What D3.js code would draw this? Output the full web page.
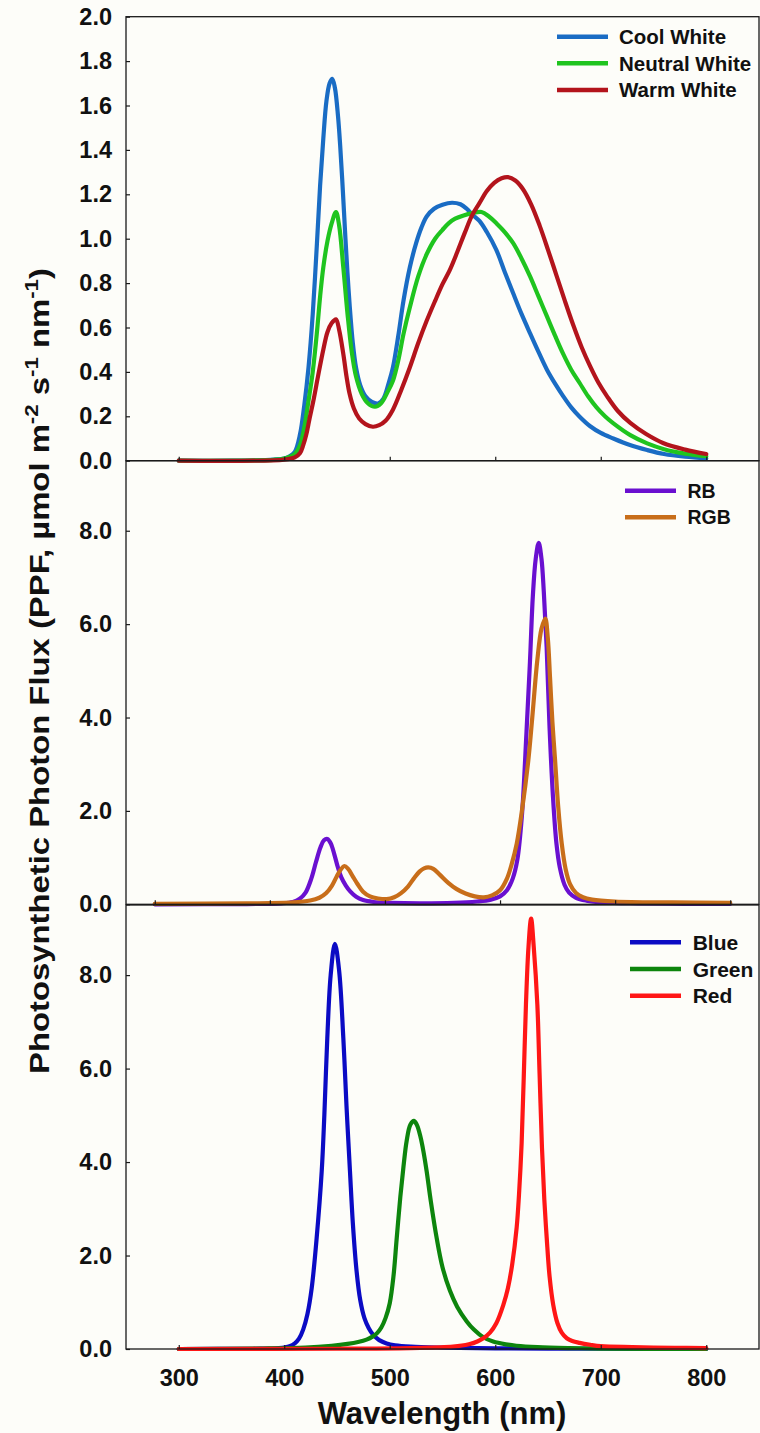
<!DOCTYPE html>
<html><head><meta charset="utf-8">
<script src="https://cdn.jsdelivr.net/npm/d3@7"></script>
<style>
html,body{margin:0;padding:0;background:#fdfdf9;}
svg{display:block;}
text{font-family:"Liberation Sans",Arial,sans-serif;font-weight:bold;fill:#111;}
</style></head><body>
<svg id="chart" width="760" height="1433"></svg>
<script>
// ---------- tick labels ----------
const X_TICKS = [300, 400, 500, 600, 700, 800];
const TOP_Y_TICKS = [0, 0.2, 0.4, 0.6, 0.8, 1.0, 1.2, 1.4, 1.6, 1.8, 2.0];
const LOWER_Y_TICKS = [0, 2, 4, 6, 8];

// ---------- series: [wavelength nm, PPF] ----------
const coolWhite = [[300,0],[350,0],[390,0.005],[400,0.01],[405,0.02],[410,0.04],[415,0.12],[419,0.25],[423,0.42],[427,0.66],[431,0.98],[434,1.24],[437,1.45],[440,1.62],[443,1.70],[445.5,1.72],[448,1.68],[451,1.55],[453,1.42],[455.5,1.22],[458,1.0],[460,0.84],[462,0.7],[465,0.53],[468,0.42],[472,0.34],[477,0.29],[483,0.265],[489,0.258],[494,0.28],[499,0.35],[503,0.42],[508,0.56],[513,0.72],[519,0.87],[525,0.98],[530,1.05],[535,1.10],[542,1.135],[550,1.153],[559,1.162],[567,1.155],[573,1.135],[578,1.11],[585,1.08],[592,1.03],[601,0.95],[609,0.85],[617,0.754],[625,0.66],[633,0.574],[641,0.49],[649,0.41],[657,0.345],[664.5,0.29],[672,0.24],[680,0.198],[690,0.155],[700,0.125],[712,0.10],[727,0.072],[744,0.048],[760,0.03],[780,0.018],[800,0.011]];
const neutralWhite = [[300,0],[390,0.004],[400,0.01],[410,0.03],[415,0.07],[419,0.15],[423,0.27],[427,0.4],[431,0.58],[434,0.74],[437,0.87],[441,0.99],[445,1.07],[449,1.12],[452,1.06],[456,0.87],[460,0.66],[464,0.49],[468,0.38],[473.5,0.30],[479,0.26],[486,0.243],[492,0.26],[498,0.31],[503,0.36],[508,0.45],[513,0.57],[519,0.69],[527,0.83],[535,0.93],[543,1.0],[550,1.04],[556,1.07],[562,1.09],[570,1.105],[578,1.115],[587,1.12],[594,1.10],[601,1.07],[609,1.03],[617,0.98],[625,0.91],[633,0.83],[641,0.74],[649,0.65],[657,0.56],[664.5,0.48],[672,0.41],[680,0.35],[688,0.29],[696,0.24],[704,0.20],[712,0.168],[728,0.115],[744,0.078],[760,0.052],[780,0.032],[800,0.02]];
const warmWhite = [[300,0],[400,0.005],[410,0.015],[415,0.035],[418,0.07],[421,0.12],[424,0.19],[427.6,0.27],[432,0.38],[437,0.50],[441,0.58],[445,0.62],[449,0.637],[452,0.59],[456,0.48],[459,0.38],[462,0.30],[466,0.235],[471,0.19],[477,0.165],[484,0.153],[490,0.16],[496,0.18],[503,0.23],[511,0.32],[519,0.42],[527,0.53],[535,0.63],[543,0.72],[550,0.795],[557,0.86],[564,0.94],[571,1.025],[578,1.105],[585,1.16],[592,1.215],[599,1.252],[606,1.272],[612,1.277],[619,1.262],[626,1.225],[634,1.155],[642,1.06],[650,0.95],[658,0.835],[666,0.72],[674,0.61],[682,0.51],[690,0.425],[698,0.35],[706,0.29],[716,0.225],[728,0.17],[743,0.12],[759,0.08],[780,0.05],[800,0.03]];

const rb = [[300,0],[380,0.005],[410,0.02],[420,0.05],[426,0.12],[431,0.25],[436,0.55],[440,0.9],[444,1.22],[447,1.37],[450,1.40],[453,1.3],[456,1.07],[459,0.8],[462,0.58],[466,0.4],[470,0.27],[475,0.16],[481,0.09],[490,0.05],[505,0.03],[530,0.02],[560,0.03],[580,0.06],[592,0.1],[600,0.17],[606,0.3],[611,0.55],[615,0.95],[619,1.9],[623,3.7],[626,5.2],[628.5,6.6],[631,7.4],[633.6,7.74],[636,7.4],[638,6.7],[640.5,5.5],[643,3.8],[646,2.3],[649,1.3],[652,0.78],[656,0.42],[660,0.25],[666,0.14],[675,0.08],[690,0.04],[720,0.02],[760,0.01],[800,0.01]];
const rgb = [[300,0.01],[380,0.02],[420,0.04],[435,0.08],[443,0.14],[449,0.24],[454,0.4],[458,0.59],[461.5,0.74],[464.7,0.82],[468,0.76],[472,0.6],[476,0.44],[481,0.27],[487,0.17],[494,0.125],[501.5,0.11],[508,0.15],[514,0.24],[520,0.38],[525,0.55],[530,0.7],[534,0.77],[537.7,0.79],[542,0.76],[547.8,0.63],[555,0.46],[562,0.33],[570,0.23],[578,0.17],[586,0.15],[593,0.19],[600,0.3],[606,0.55],[610,0.85],[614.5,1.3],[619,2.0],[624.6,3.09],[628,4.0],[632.4,5.23],[636,5.9],[639.3,6.12],[641.5,5.7],[643.4,4.87],[645.5,3.9],[647.8,3.09],[650.5,2.1],[653.6,1.3],[657,0.75],[660.8,0.43],[666,0.24],[672,0.15],[680,0.1],[700,0.06],[750,0.04],[800,0.03]];

const blueLed = [[300,0],[370,0.005],[395,0.02],[405,0.06],[410,0.12],[414,0.22],[418,0.42],[422,0.75],[426,1.3],[430.7,2.37],[435.5,3.8],[438,5.0],[440.8,6.65],[444,8.0],[448,8.67],[452,8.1],[456,6.65],[459,5.2],[462.3,3.8],[465,2.7],[468.6,1.66],[472,1.05],[476,0.66],[480,0.45],[484.4,0.3],[490,0.19],[497,0.12],[505,0.08],[520,0.05],[550,0.03],[600,0.015],[650,0.008],[700,0.005],[800,0]];
const greenLed = [[300,0],[380,0.01],[420,0.03],[445,0.07],[460,0.11],[470,0.15],[478,0.2],[484,0.27],[488,0.34],[492,0.46],[496,0.66],[500,0.98],[503.5,1.55],[506.6,2.37],[510,3.25],[513,3.9],[516,4.45],[519.5,4.8],[523,4.88],[526,4.78],[529,4.55],[532,4.22],[535,3.8],[539,3.15],[544.5,2.37],[550,1.75],[557,1.25],[564,0.9],[573,0.59],[580,0.41],[588.7,0.25],[598,0.16],[610,0.1],[620,0.07],[640,0.04],[670,0.02],[700,0.01],[800,0]];
const redLed = [[300,0],[450,0.005],[520,0.02],[560,0.05],[575,0.1],[583,0.16],[588.7,0.23],[595,0.35],[601,0.55],[607.6,0.94],[612,1.3],[616,1.8],[620.3,2.6],[622.5,3.3],[625,4.4],[627,5.8],[629.1,7.37],[631.5,8.6],[634,9.21],[636.5,8.6],[639.9,7.37],[642,5.9],[644.3,4.3],[646.5,3.2],[648.8,2.37],[651.5,1.55],[655,0.94],[659,0.55],[663,0.35],[667.8,0.23],[673,0.17],[680,0.13],[690,0.09],[700,0.06],[730,0.04],[770,0.025],[800,0.02]];

// ---------- layout ----------
const svg = d3.select('#chart');
const LEFT = 126, RIGHT = 759;
const FONT = '"Liberation Sans", Arial, sans-serif';

const panels = [
  { yTop: 16.7, yBot: 460.7, xDomain: [250, 850], yDomain: [0, 2], yTicks: TOP_Y_TICKS, xLabels: false,
    series: [
      { name: 'Cool White', data: coolWhite, color: '#1a6cc4' },
      { name: 'Neutral White', data: neutralWhite, color: '#1fc41f' },
      { name: 'Warm White', data: warmWhite, color: '#b3141c' }],
    legend: { x1: 557, x2: 608, tx: 619, ys: [36.7, 63.3, 90], size: 20.5 } },
  { yTop: 460.7, yBot: 904.3, xDomain: [275, 825], yDomain: [0, 9.5], yTicks: LOWER_Y_TICKS, xLabels: false,
    series: [
      { name: 'RB', data: rb, color: '#6a10d0' },
      { name: 'RGB', data: rgb, color: '#c86e1a' }],
    legend: { x1: 625, x2: 676, tx: 687.5, ys: [490.7, 517.3], size: 19.5 } },
  { yTop: 905, yBot: 1349, xDomain: [250, 850], yDomain: [0, 9.5], yTicks: LOWER_Y_TICKS, xLabels: true,
    series: [
      { name: 'Blue', data: blueLed, color: '#0b0bc4' },
      { name: 'Green', data: greenLed, color: '#0d850d' },
      { name: 'Red', data: redLed, color: '#ff1616' }],
    legend: { x1: 630, x2: 681, tx: 692.7, ys: [942.3, 969, 995.7], size: 21 } }
];

panels.forEach(p => {
  const x = d3.scaleLinear().domain(p.xDomain).range([LEFT, RIGHT]);
  const y = d3.scaleLinear().domain(p.yDomain).range([p.yBot, p.yTop]);
  const g = svg.append('g');

  // curves
  const line = d3.line().x(d => x(d[0])).y(d => y(d[1])).curve(d3.curveCatmullRom.alpha(0.5));
  p.series.forEach(s => {
    g.append('path').datum(s.data).attr('d', line)
      .attr('fill', 'none').attr('stroke', s.color).attr('stroke-width', 4.2)
      .attr('stroke-linejoin', 'round').attr('stroke-linecap', 'round');
  });

  // frame
  g.append('rect').attr('x', LEFT).attr('y', p.yTop).attr('width', RIGHT - LEFT).attr('height', p.yBot - p.yTop)
    .attr('fill', 'none').attr('stroke', '#1a1a1a').attr('stroke-width', 1.3);

  // y axis
  const ya = g.append('g').attr('transform', `translate(${LEFT},0)`)
    .call(d3.axisLeft(y).tickValues(p.yTicks).tickSize(-4).tickSizeOuter(0).tickPadding(14).tickFormat(d3.format('.1f')));
  ya.select('.domain').remove();
  ya.selectAll('line').attr('stroke', '#1a1a1a').attr('stroke-width', 1.2);
  ya.selectAll('text').style('font-family', FONT).style('font-weight', 'bold').style('font-size', '23.5px').attr('fill', '#111');

  // x axis
  const xa = g.append('g').attr('transform', `translate(0,${p.yBot})`)
    .call(d3.axisBottom(x).tickValues(X_TICKS).tickSize(-4).tickSizeOuter(0).tickPadding(20)
      .tickFormat(p.xLabels ? d3.format('d') : () => ''));
  xa.select('.domain').remove();
  xa.selectAll('line').attr('stroke', '#1a1a1a').attr('stroke-width', 1.2);
  xa.selectAll('text').style('font-family', FONT).style('font-weight', 'bold').style('font-size', '23.5px').attr('fill', '#111');

  // legend
  p.series.forEach((s, i) => {
    const ly = p.legend.ys[i];
    g.append('line').attr('x1', p.legend.x1).attr('x2', p.legend.x2).attr('y1', ly).attr('y2', ly)
      .attr('stroke', s.color).attr('stroke-width', 4.5);
    g.append('text').attr('x', p.legend.tx).attr('y', ly).attr('dy', '0.36em')
      .style('font-size', p.legend.size + 'px').text(s.name);
  });
});

// x axis title
svg.append('text').attr('x', 442).attr('y', 1424).attr('text-anchor', 'middle')
  .style('font-size', '31px').text('Wavelength (nm)');

// y axis title with superscripts
const yl = svg.append('text').attr('text-anchor', 'middle').style('font-size', '28px')
  .attr('transform', 'translate(49,671) rotate(-90)');
yl.append('tspan').text('Photosynthetic Photon Flux (PPF, \u00B5mol m');
yl.append('tspan').attr('dy', -11).style('font-size', '19px').text('-2');
yl.append('tspan').attr('dy', 11).text(' s');
yl.append('tspan').attr('dy', -11).style('font-size', '19px').text('-1');
yl.append('tspan').attr('dy', 11).text(' nm');
yl.append('tspan').attr('dy', -11).style('font-size', '19px').text('-1');
yl.append('tspan').attr('dy', 11).text(')');
const w = yl.node().getBBox().width;
yl.attr('transform', `translate(49,671) rotate(-90) scale(${806 / w},1)`);
</script>
</body></html>
